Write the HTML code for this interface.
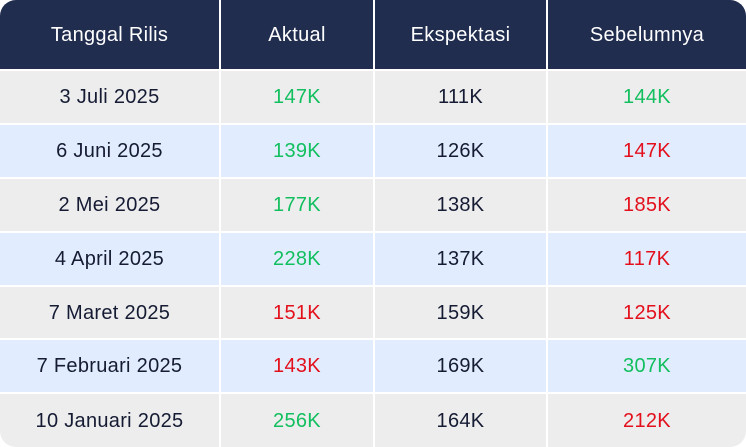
<!DOCTYPE html>
<html><head><style>
body{margin:0;width:746px;height:447px;background:#fff;font-family:"Liberation Sans",sans-serif;overflow:hidden}
.wrap{position:absolute;left:0;top:0;width:746px;height:447px;border-radius:16px;overflow:hidden;background:#fff}
.c{position:absolute;display:flex;align-items:center;justify-content:center;font-size:20px;color:#151b33;letter-spacing:0.3px;padding-top:1px;box-sizing:border-box}
.h{background:#212d4f;color:#fff;font-size:20px}
.g{color:#12bf5e}.r{color:#e3101c}
</style></head><body><div class="wrap" id="w"></div>
<script>
var cols=[0,220,374,547,746];
var rows=[0,70,124,178,232,286,339,393,447];
var data=[["Tanggal Rilis","Aktual","Ekspektasi","Sebelumnya"],
["3 Juli 2025","147K|g","111K","144K|g"],
["6 Juni 2025","139K|g","126K","147K|r"],
["2 Mei 2025","177K|g","138K","185K|r"],
["4 April 2025","228K|g","137K","117K|r"],
["7 Maret 2025","151K|r","159K","125K|r"],
["7 Februari 2025","143K|r","169K","307K|g"],
["10 Januari 2025","256K|g","164K","212K|r"]];
var w=document.getElementById('w'),h='';
for(var i=0;i<8;i++)for(var j=0;j<4;j++){
 var p=data[i][j].split('|');
 var x=cols[j]+(j?1:0),y=rows[i]+(i?1:0),wd=cols[j+1]-x-(j<3?1:0),ht=rows[i+1]-y-(i<7?1:0);
 var bg=i==0?'':(i%2?'background:#ededed;':'background:#e1edfe;');
 h+='<div class="c '+(i==0?'h ':'')+(p[1]||'')+'" style="left:'+x+'px;top:'+y+'px;width:'+wd+'px;height:'+ht+'px;'+bg+'">'+p[0]+'</div>';
}
w.innerHTML=h;
</script></body></html>
